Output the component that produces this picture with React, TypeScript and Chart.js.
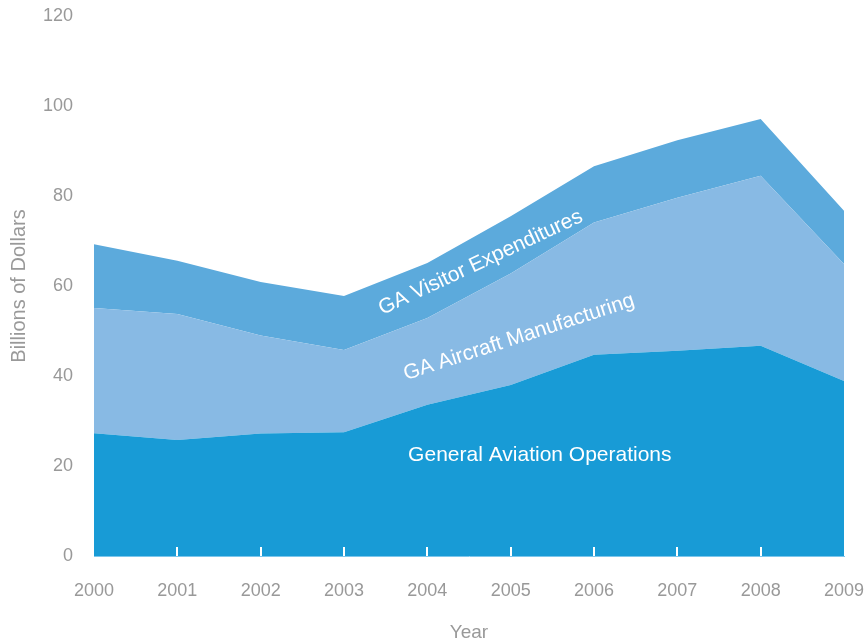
import React, { useEffect, useRef } from "react";
import { Chart, registerables } from "chart.js";

Chart.register(...registerables);

const years = ["2000", "2001", "2002", "2003", "2004", "2005", "2006", "2007", "2008", "2009"];
const operations = [27.3, 25.8, 27.2, 27.5, 33.6, 38.0, 44.7, 45.6, 46.7, 38.9];
const manufacturing = [27.8, 28.0, 21.8, 18.3, 19.3, 24.8, 29.4, 34.0, 37.8, 26.0];
const visitor = [14.2, 11.8, 11.9, 12.0, 12.2, 12.7, 12.5, 12.8, 12.6, 11.8];

const seriesNames = ["General Aviation Operations", "GA Aircraft Manufacturing", "GA Visitor Expenditures"];
const seriesColors = ["#189bd6", "#88bae4", "#5caadc"];

// in-chart labels: [text, category index, value, rotation deg]
const annotations: [string, number, number, number][] = [
  ["General Aviation Operations", 5.35, 22.3, 0],
  ["GA Aircraft Manufacturing", 5.1, 48.6, -18],
  ["GA Visitor Expenditures", 4.64, 65.2, -25],
];

const FONT = "'Liberation Sans', Arial, Helvetica, sans-serif";
const GRAY = "#999999";

const overlayPlugin = {
  id: "overlay",
  afterDatasetsDraw(chart: any) {
    const { ctx, chartArea, scales } = chart;
    const xs = scales.x;
    const ys = scales.y;
    ctx.save();
    ctx.strokeStyle = "#ffffff";
    ctx.lineWidth = 2;
    for (let i = 1; i < years.length - 1; i++) {
      const x = Math.round(xs.getPixelForValue(i));
      ctx.beginPath();
      ctx.moveTo(x, chartArea.bottom);
      ctx.lineTo(x, chartArea.bottom - 9);
      ctx.stroke();
    }
    ctx.fillStyle = "#ffffff";
    ctx.font = `21px ${FONT}`;
    ctx.textAlign = "center";
    ctx.textBaseline = "middle";
    for (const [text, xi, yv, rot] of annotations) {
      const px = xs.getPixelForValue(xi);
      const py = ys.getPixelForValue(yv);
      ctx.save();
      ctx.translate(px, py);
      ctx.rotate((rot * Math.PI) / 180);
      ctx.fillText(text, 0, 0);
      ctx.restore();
    }
    ctx.restore();
  },
};

export default function App() {
  const ref = useRef<HTMLCanvasElement>(null);
  useEffect(() => {
    document.body.style.margin = "0";
    const canvas = ref.current;
    if (!canvas) return;
    const values = [operations, manufacturing, visitor];
    const chart = new Chart(canvas, {
      type: "line",
      data: {
        labels: years,
        datasets: values.map((v, i) => ({
          label: seriesNames[i],
          data: v,
          backgroundColor: seriesColors[i],
          borderColor: seriesColors[i],
          borderWidth: 0,
          pointRadius: 0,
          tension: 0,
          fill: i === 0 ? "origin" : "-1",
        })),
      },
      options: {
        animation: false,
        responsive: false,
        layout: { padding: { top: 16, right: 24, bottom: 0, left: 0 } },
        plugins: { legend: { display: false }, tooltip: { enabled: false } },
        scales: {
          x: {
            offset: false,
            grid: { display: false, drawTicks: false },
            border: { display: true, color: "#7cc6ec", width: 1 },
            ticks: { color: GRAY, font: { family: FONT, size: 18 }, padding: 24, maxRotation: 0 },
            title: {
              display: true,
              text: "Year",
              color: GRAY,
              font: { family: FONT, size: 19 },
              padding: { top: 0, bottom: -2 },
            },
            afterFit: (s: any) => {
              s.height = 86;
              s.paddingLeft = 0;
              s.paddingRight = 0;
            },
          },
          y: {
            stacked: true,
            min: 0,
            max: 120,
            grid: { display: false, drawTicks: false },
            border: { display: false },
            ticks: { stepSize: 20, color: GRAY, font: { family: FONT, size: 18 }, padding: 21 },
            title: {
              display: true,
              text: "Billions of Dollars",
              color: GRAY,
              font: { family: FONT, size: 20 },
              padding: { top: 7, bottom: 0 },
            },
            afterFit: (s: any) => {
              s.width = 94;
              s.paddingTop = 0;
              s.paddingBottom = 0;
            },
          },
        },
      },
      plugins: [overlayPlugin],
    });
    return () => chart.destroy();
  }, []);
  return (
    <div style={{ position: "absolute", left: 0, top: 0, width: 868, height: 642 }}>
      <canvas ref={ref} width={868} height={642} style={{ width: 868, height: 642, display: "block" }} />
    </div>
  );
}
